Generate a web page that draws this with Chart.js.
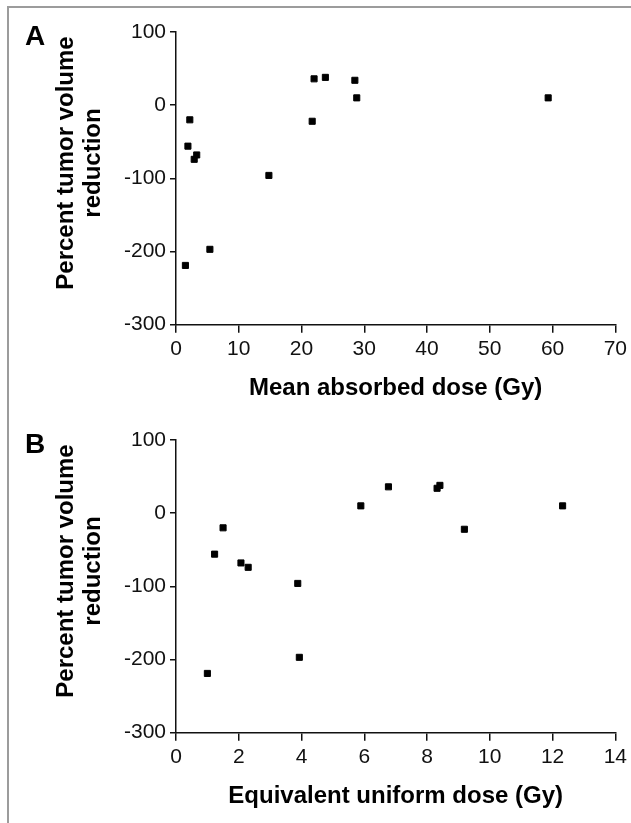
<!DOCTYPE html>
<html>
<head>
<meta charset="utf-8">
<script src="https://cdn.jsdelivr.net/npm/chart.js@4.4.1/dist/chart.umd.min.js"></script>
<style>
  body { margin: 0; background: #fff; }
  #wrap { position: relative; width: 631px; height: 823px; overflow: hidden; }
  #frame { position: absolute; left: 7px; top: 6px; width: 640px; height: 830px;
           border-left: 2px solid #9c9c9c; border-top: 2px solid #9c9c9c; }
  canvas { position: absolute; left: 0; }
  #chartA { top: 0; }
  #chartB { top: 408px; }
</style>
</head>
<body>
<div id="wrap">
  <div id="frame"></div>
  <canvas id="chartA" width="631" height="408"></canvas>
  <canvas id="chartB" width="631" height="415"></canvas>
</div>
<script>
// panel A: mean absorbed dose (Gy) vs percent tumor volume reduction
const doseA = [2.2, 1.9, 2.9, 3.3, 1.5, 5.4, 14.8, 21.7, 22.0, 23.8, 28.5, 28.8, 59.3];
const reductionA = [-20, -56, -74, -68, -219, -197, -96, -22, 36, 38, 34, 10, 10];

// panel B: equivalent uniform dose (Gy)
const eudB = [1.0, 1.23, 1.5, 2.07, 2.3, 3.88, 3.93, 5.89, 6.77, 8.32, 8.41, 9.19, 12.32];
const reductionB = [-219, -56, -20, -68, -74, -96, -197, 10, 36, 34, 38, -22, 10];

const yTicks = [-300, -200, -100, 0, 100];
const yTitle = ["Percent tumor volume", "reduction"];

const fontFamily = "'Liberation Sans', Arial, Helvetica, sans-serif";
const ink = "#111";

// panel letter + two-line rotated y title
const panelText = {
    id: "panelText",
    afterDraw(chart, args, opts) {
        let ctx = chart.ctx;
        ctx.save();
        ctx.fillStyle = "#000";
        ctx.font = "bold 28px " + fontFamily;
        ctx.textAlign = "left";
        ctx.textBaseline = "alphabetic";
        ctx.fillText(opts.letter, 25, 45);

        ctx.font = "bold 24px " + fontFamily;
        ctx.textAlign = "center";
        [73, 100].forEach((x, i) => {
            ctx.save();
            ctx.translate(x, 163);
            ctx.rotate(-Math.PI / 2);
            ctx.fillText(yTitle[i], 0, 0);
            ctx.restore();
        });
        ctx.restore();
    }
};

function makeChart(id, xs, ys, xMax, xStep, xLabel, letter, bottomPad) {
    let ctx = document.getElementById(id).getContext("2d");
    return new Chart(ctx, {
        type: "scatter",
        data: {
            datasets: [{
                data: xs.map((x, i) => ({ x: x, y: ys[i] })),
                pointStyle: "rect",
                pointRadius: 4.3,
                pointHoverRadius: 4.3,
                backgroundColor: "#000",
                borderColor: "#000",
                borderWidth: 1
            }]
        },
        options: {
            responsive: false,
            animation: false,
            events: [],
            layout: { padding: { left: 0, right: 15, top: 32, bottom: bottomPad } },
            plugins: {
                legend: { display: false },
                tooltip: { enabled: false },
                panelText: { letter: letter }
            },
            scales: {
                x: {
                    type: "linear",
                    min: 0,
                    max: xMax,
                    ticks: {
                        stepSize: xStep,
                        color: ink,
                        padding: 4,
                        font: { family: fontFamily, size: 21 }
                    },
                    grid: {
                        drawOnChartArea: false,
                        drawTicks: true,
                        tickLength: 8,
                        color: ink,
                        lineWidth: 1.5
                    },
                    border: { display: true, color: ink, width: 1.5 },
                    title: {
                        display: true,
                        text: xLabel,
                        color: "#000",
                        padding: { top: 0, bottom: 2 },
                        font: { family: fontFamily, size: 24, weight: "bold" }
                    },
                    afterFit: s => { s.height = 80; }
                },
                y: {
                    type: "linear",
                    min: yTicks[0],
                    max: yTicks[yTicks.length - 1],
                    ticks: {
                        stepSize: 100,
                        color: ink,
                        padding: 4,
                        font: { family: fontFamily, size: 21 }
                    },
                    grid: {
                        drawOnChartArea: false,
                        drawTicks: true,
                        tickLength: 6,
                        color: ink,
                        lineWidth: 1.5
                    },
                    border: { display: true, color: ink, width: 1.5 },
                    afterFit: s => { s.width = 176; }
                }
            }
        },
        plugins: [panelText]
    });
}

makeChart("chartA", doseA, reductionA, 70, 10, "Mean absorbed dose (Gy)", "A", 3.3);
makeChart("chartB", eudB, reductionB, 14, 2, "Equivalent uniform dose (Gy)", "B", 10.3);
</script>
</body>
</html>
